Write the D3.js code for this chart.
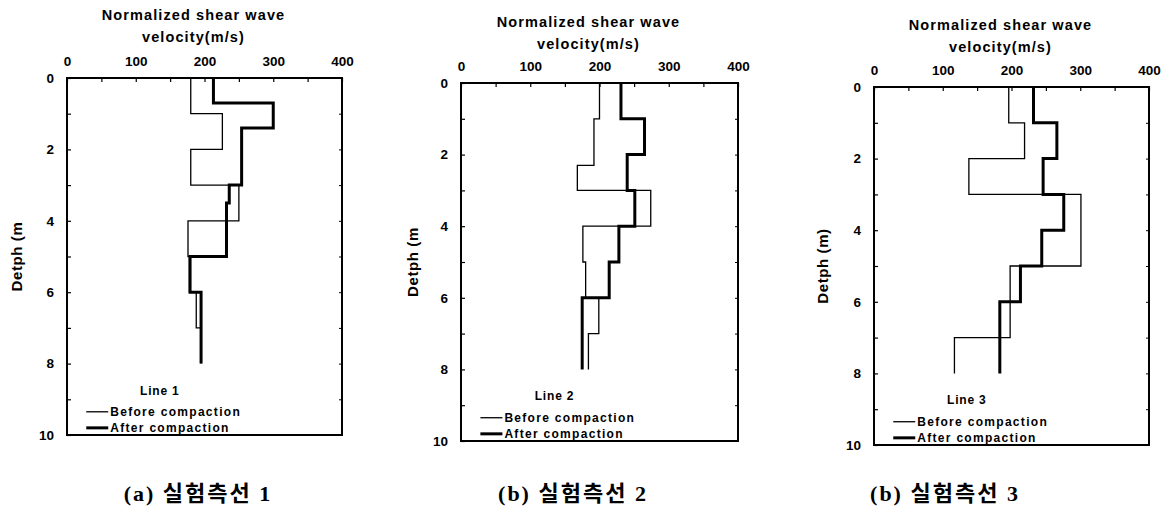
<!DOCTYPE html>
<html>
<head>
<meta charset="utf-8">
<script src="https://cdn.jsdelivr.net/npm/d3@7"></script>
<style>
  html, body { margin: 0; padding: 0; background: #fff; }
  svg { display: block; }
  .lbl { font-family: "Liberation Sans", Arial, sans-serif; font-weight: bold; fill: #000; }
  .cap { font-family: "Liberation Serif", "Noto Sans CJK KR", serif; font-weight: bold; fill: #000; }
</style>
</head>
<body>
<svg id="chart" width="1164" height="515"></svg>
<script>
// ---------------- data ----------------
const velocityTicks = [0, 100, 200, 300, 400];
const velocityMinorTicks = [0, 50, 100, 150, 200, 250, 300, 350, 400];
const depthTicks = [0, 2, 4, 6, 8, 10];
const depthMinorTicks = [0, 1, 2, 3, 4, 5, 6, 7, 8, 9, 10];
const titleLines = ["Normalized shear wave", "velocity(m/s)"];
const seriesNames = ["Before compaction", "After compaction"];
const lineNames = ["Line 1", "Line 2", "Line 3"];
const depthLabels = ["Detph (m", "Detph (m", "Detph (m)"];
const captions = ["(a) 실험측선 1", "(b) 실험측선 2", "(b) 실험측선 3"];

// layer boundaries (m) and velocities (m/s)
const line1BeforeDepth = [0, 1, 2, 3, 4, 5, 6, 7, 8];
const line1BeforeVs    = [180, 226, 180, 250, 176, 178, 188, 195];
const line1AfterDepth  = [0, 0.7, 1.4, 3, 3.5, 5, 6, 8];
const line1AfterVs     = [213, 300, 254, 236, 232, 179, 195];

const line2BeforeDepth = [0, 1, 2.3, 3, 4, 5, 6, 7, 8];
const line2BeforeVs    = [200, 192, 168, 274, 176, 180, 199, 184];
const line2AfterDepth  = [0, 1, 2, 3, 4, 5, 6, 8];
const line2AfterVs     = [231, 265, 240, 251, 228, 214, 175];

const line3BeforeDepth = [0, 1, 2, 3, 5, 7, 8];
const line3BeforeVs    = [196, 219, 138, 301, 198, 117];
const line3AfterDepth  = [0, 1, 2, 3, 4, 5, 6, 8];
const line3AfterVs     = [232, 266, 246, 276, 244, 213, 183];

const panelData = [
  { before: [line1BeforeDepth, line1BeforeVs], after: [line1AfterDepth, line1AfterVs] },
  { before: [line2BeforeDepth, line2BeforeVs], after: [line2AfterDepth, line2AfterVs] },
  { before: [line3BeforeDepth, line3BeforeVs], after: [line3AfterDepth, line3AfterVs] }
];

// ---------------- layout ----------------
const layout = [
  { left: 67,  right: 342,  top: 78, bottom: 435, titleY: 20, ylabX: 17,  capX: 198 },
  { left: 461, right: 738,  top: 83, bottom: 441, titleY: 27, ylabX: 413, capX: 573 },
  { left: 874, right: 1149, top: 87, bottom: 445, titleY: 30, ylabX: 823, capX: 945 }
];

const svg = d3.select("#chart");

function stepPoints(depths, vs) {
  const pts = [];
  vs.forEach((v, i) => { pts.push([v, depths[i]]); pts.push([v, depths[i + 1]]); });
  return pts;
}

layout.forEach((L, pi) => {
  const g = svg.append("g");
  const x = d3.scaleLinear().domain([0, 400]).range([L.left, L.right]);
  const y = d3.scaleLinear().domain([0, 10]).range([L.top, L.bottom]);

  // title
  const tcx = (L.left + L.right) / 2 - 11;
  titleLines.forEach((t, i) => {
    g.append("text").attr("class", "lbl")
      .attr("x", tcx).attr("y", L.titleY + i * 22)
      .attr("text-anchor", "middle")
      .style("font-size", "14.5px").style("letter-spacing", "1.1px")
      .text(t);
  });

  // top axis: minor inward ticks
  g.append("g").attr("transform", `translate(0,${L.top})`)
    .call(d3.axisTop(x).tickValues(velocityMinorTicks).tickSize(-4).tickFormat(""))
    .call(a => a.select(".domain").remove())
    .call(a => a.selectAll("line").attr("stroke", "#000").attr("stroke-width", 1.2));
  // top axis labels
  g.append("g").attr("transform", `translate(0,${L.top})`)
    .call(d3.axisTop(x).tickValues(velocityTicks).tickSize(0).tickPadding(12).tickFormat(d3.format("d")))
    .call(a => a.select(".domain").remove())
    .call(a => a.selectAll("text").attr("class", "lbl").style("font-size", "13.5px").attr("fill", "#000"));

  // left axis ticks
  g.append("g").attr("transform", `translate(${L.left},0)`)
    .call(d3.axisLeft(y).tickValues(depthMinorTicks).tickSize(-4).tickFormat(""))
    .call(a => a.select(".domain").remove())
    .call(a => a.selectAll("line").attr("stroke", "#000").attr("stroke-width", 1.2));
  g.append("g").attr("transform", `translate(${L.left},0)`)
    .call(d3.axisLeft(y).tickValues(depthTicks).tickSize(0).tickPadding(13).tickFormat(d3.format("d")))
    .call(a => a.select(".domain").remove())
    .call(a => a.selectAll("text").attr("class", "lbl").style("font-size", "13.5px").attr("fill", "#000"));

  // right axis faint ticks
  g.append("g").attr("transform", `translate(${L.right},0)`)
    .call(d3.axisRight(y).tickValues(depthMinorTicks).tickSize(-3).tickFormat(""))
    .call(a => a.select(".domain").remove())
    .call(a => a.selectAll("line").attr("stroke", "#000").attr("stroke-width", 1));

  // frame
  g.append("rect")
    .attr("x", x(0)).attr("y", y(0))
    .attr("width", x(400) - x(0)).attr("height", y(10) - y(0))
    .attr("fill", "none").attr("stroke", "#000").attr("stroke-width", 2);

  // y label
  g.append("text").attr("class", "lbl")
    .attr("transform", `translate(${L.ylabX},${(L.top + L.bottom) / 2}) rotate(-90)`)
    .attr("text-anchor", "middle").attr("dy", "0.35em")
    .style("font-size", "15px").style("letter-spacing", "0.6px")
    .text(depthLabels[pi]);

  const line = d3.line().x(d => x(d[0])).y(d => y(d[1]));
  const pd = panelData[pi];
  g.append("path").attr("d", line(stepPoints(pd.before[0], pd.before[1])))
    .attr("fill", "none").attr("stroke", "#000").attr("stroke-width", 1.3);
  g.append("path").attr("d", line(stepPoints(pd.after[0], pd.after[1])))
    .attr("fill", "none").attr("stroke", "#000").attr("stroke-width", 3);

  // legend
  const lx = x(28), lname = y(8.75);
  g.append("text").attr("class", "lbl")
    .attr("x", x(135)).attr("y", lname).attr("dy", "0.35em")
    .attr("text-anchor", "middle").style("font-size", "12px").style("letter-spacing", "0.8px")
    .text(lineNames[pi]);
  seriesNames.forEach((s, i) => {
    const ly = y(9.35 + i * 0.45);
    g.append("line").attr("x1", lx).attr("x2", lx + 22).attr("y1", ly).attr("y2", ly)
      .attr("stroke", "#000").attr("stroke-width", i === 0 ? 1.3 : 3);
    g.append("text").attr("class", "lbl")
      .attr("x", lx + 24).attr("y", ly).attr("dy", "0.38em")
      .style("font-size", "12px").style("letter-spacing", "1.3px")
      .text(s);
  });

  // caption
  svg.append("text").attr("class", "cap")
    .attr("x", L.capX).attr("y", 501)
    .attr("text-anchor", "middle")
    .style("font-size", "22px").style("letter-spacing", "2px")
    .text(captions[pi]);
});
</script>
</body>
</html>
